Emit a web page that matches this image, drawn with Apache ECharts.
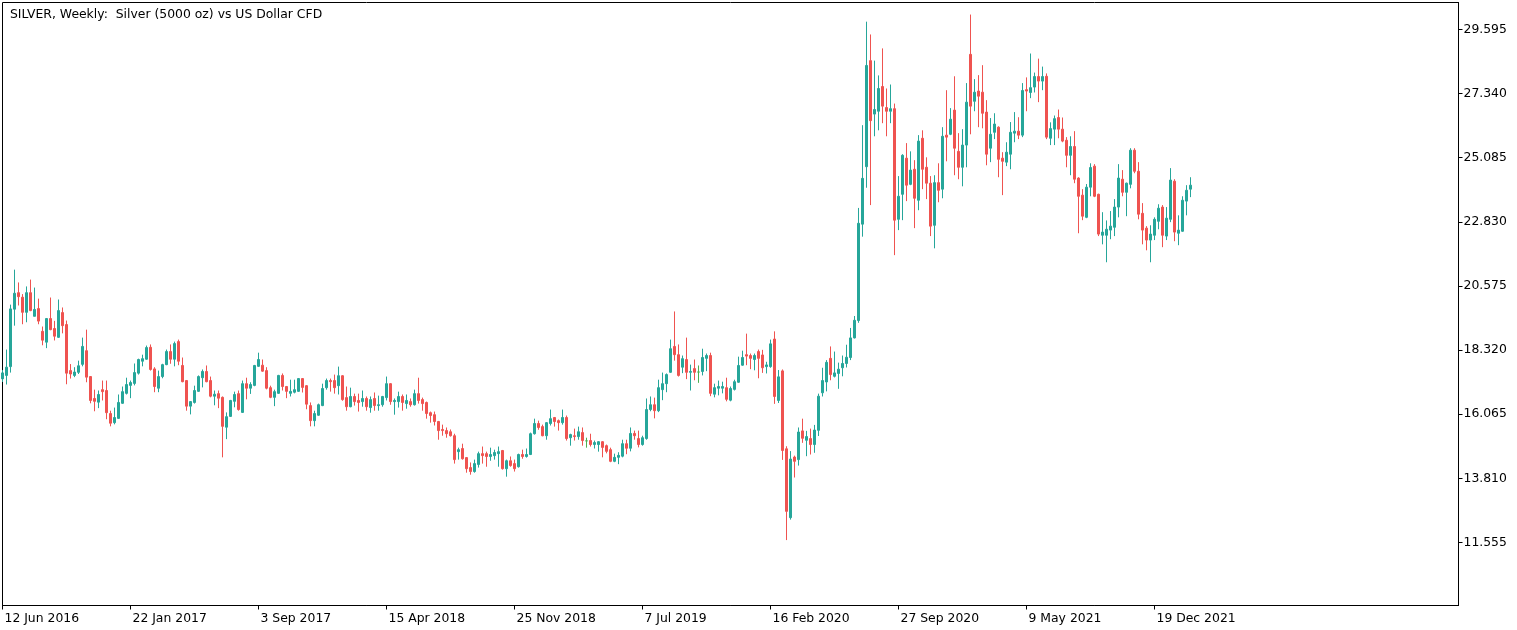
<!DOCTYPE html>
<html>
<head>
<meta charset="utf-8">
<script src="https://cdn.jsdelivr.net/npm/echarts@6/dist/echarts.min.js"></script>
<style>
  html, body { margin: 0; padding: 0; background: #fff; }
  #chart { width: 1517px; height: 630px; }
</style>
</head>
<body>
<div id="chart"></div>
<script>
// Weekly SILVER bars, first bar = week of 12 Jun 2016 (one bar per 4px slot).
const OPEN = [
  17.31, 17.43, 17.74, 19.76, 20.34, 20.18, 19.65, 20.34, 19.51, 19.78,
  18.98, 18.60, 19.43, 19.08, 18.77, 19.64, 19.22, 17.60, 17.43, 17.54,
  17.82, 18.30, 17.39, 16.62, 16.49, 16.93, 16.90, 16.09, 15.77, 15.92,
  16.45, 16.80, 17.08, 17.15, 17.51, 17.93, 18.00, 18.42, 17.66, 16.98,
  17.39, 17.81, 18.27, 18.00, 18.62, 17.78, 17.25, 16.35, 16.48, 16.87,
  17.35, 17.57, 17.25, 16.70, 16.79, 16.66, 15.61, 15.99, 16.52, 16.79,
  16.13, 17.14, 16.98, 17.08, 17.75, 17.79, 17.60, 17.00, 16.66, 16.80,
  17.43, 17.04, 16.80, 16.84, 16.87, 17.32, 17.07, 16.37, 15.84, 16.03,
  16.37, 17.00, 17.25, 17.25, 17.07, 17.42, 16.65, 16.33, 16.69, 16.55,
  16.51, 16.62, 16.30, 16.62, 16.37, 16.40, 16.65, 17.14, 16.51, 16.51,
  16.69, 16.44, 16.51, 16.40, 16.79, 16.58, 16.48, 16.12, 16.05, 15.81,
  15.53, 15.49, 15.45, 15.31, 14.75, 14.86, 14.54, 14.19, 14.05, 14.30,
  14.68, 14.68, 14.58, 14.61, 14.68, 14.79, 14.15, 14.43, 14.33, 14.22,
  14.65, 14.58, 14.65, 15.38, 15.74, 15.63, 15.31, 15.74, 15.95, 15.84,
  15.77, 15.95, 15.24, 15.31, 15.28, 15.42, 15.13, 15.14, 15.00, 15.00,
  15.10, 14.96, 14.82, 14.41, 14.55, 14.59, 15.03, 14.87, 15.39, 15.21,
  15.00, 15.21, 16.23, 16.40, 16.19, 16.93, 17.14, 17.54, 18.45, 18.16,
  17.72, 17.99, 17.54, 17.67, 17.55, 17.57, 18.03, 18.13, 16.77, 16.98,
  16.98, 17.00, 16.56, 16.94, 17.19, 17.79, 18.16, 18.13, 17.99, 18.27,
  18.15, 17.74, 17.74, 18.71, 16.55, 17.59, 14.85, 12.43, 14.56, 14.47,
  15.48, 15.15, 15.21, 15.00, 15.50, 16.82, 17.20, 18.03, 17.40, 17.50,
  17.70, 17.85, 18.06, 18.75, 19.36, 22.75, 24.77, 28.50, 26.62, 26.72,
  27.59, 26.85, 26.72, 26.81, 22.92, 23.80, 25.07, 24.15, 24.68, 23.59,
  25.77, 24.75, 24.19, 22.71, 24.21, 23.98, 25.88, 25.91, 26.76, 25.31,
  24.75, 25.53, 28.72, 27.07, 27.43, 27.39, 26.69, 25.42, 25.98, 26.16,
  25.07, 24.93, 25.21, 25.95, 26.02, 25.88, 27.48, 27.38, 27.57, 27.94,
  27.78, 27.95, 25.77, 26.09, 26.50, 26.09, 25.70, 25.17, 25.48, 24.37,
  23.77, 22.99, 24.05, 24.79, 23.80, 22.36, 22.36, 22.54, 22.64, 23.35,
  24.33, 23.87, 24.15, 25.35, 24.61, 23.13, 22.61, 22.19, 22.36, 22.85,
  23.35, 22.33, 22.92, 24.26, 22.43, 22.50, 23.56, 23.98,
];
const HIGH = [
  17.62, 18.34, 19.92, 21.15, 20.70, 20.29, 20.56, 20.80, 20.52, 20.13,
  19.15, 19.45, 20.17, 19.35, 20.10, 19.82, 19.36, 17.83, 17.72, 17.95,
  18.76, 19.04, 17.41, 16.93, 16.90, 17.25, 17.25, 16.19, 16.30, 16.76,
  17.04, 17.35, 17.25, 17.85, 18.02, 18.16, 18.48, 18.52, 17.72, 17.60,
  17.84, 18.34, 18.52, 18.62, 18.69, 18.06, 17.27, 16.53, 17.07, 17.43,
  17.64, 17.78, 17.39, 16.90, 16.90, 16.69, 16.13, 16.57, 16.86, 16.90,
  17.25, 17.35, 17.19, 17.80, 18.23, 17.99, 17.72, 17.07, 16.93, 17.45,
  17.50, 17.06, 17.28, 17.28, 17.34, 17.34, 17.09, 16.48, 16.19, 16.44,
  17.14, 17.32, 17.32, 17.46, 17.74, 17.44, 17.04, 17.00, 16.79, 16.79,
  16.90, 16.69, 16.69, 16.83, 16.72, 16.71, 17.39, 17.16, 16.62, 16.86,
  16.76, 16.76, 16.62, 16.93, 17.35, 16.65, 16.51, 16.16, 16.16, 15.83,
  15.70, 15.60, 15.53, 15.38, 14.89, 15.03, 14.56, 14.37, 14.47, 14.75,
  14.93, 14.75, 14.89, 14.82, 14.93, 14.81, 14.47, 14.58, 14.47, 14.68,
  14.82, 14.86, 15.42, 15.91, 15.84, 15.70, 15.79, 16.23, 15.97, 15.88,
  16.23, 16.02, 15.38, 15.56, 15.63, 15.60, 15.24, 15.38, 15.14, 15.12,
  15.12, 15.00, 14.89, 14.68, 14.73, 15.17, 15.17, 15.60, 15.49, 15.49,
  15.31, 16.62, 16.69, 16.65, 17.28, 17.53, 17.50, 18.69, 19.68, 18.52,
  18.13, 18.76, 17.81, 17.99, 17.78, 18.37, 18.20, 18.23, 17.14, 17.25,
  17.21, 17.35, 17.04, 17.28, 18.09, 18.30, 18.90, 18.20, 18.20, 18.34,
  18.33, 17.91, 18.69, 18.98, 17.62, 17.64, 14.94, 14.77, 14.61, 15.60,
  15.91, 15.48, 15.56, 15.69, 16.79, 17.70, 17.97, 18.45, 18.27, 17.88,
  18.13, 18.51, 19.10, 19.52, 23.32, 26.23, 29.87, 29.42, 28.50, 27.98,
  28.93, 27.52, 27.66, 26.99, 24.44, 25.21, 25.60, 25.31, 25.00, 25.88,
  26.05, 25.10, 24.44, 24.47, 24.89, 26.16, 27.46, 26.83, 27.95, 25.95,
  26.09, 27.71, 30.12, 27.85, 27.99, 28.34, 27.11, 26.48, 26.65, 26.19,
  25.28, 25.63, 26.34, 26.69, 26.51, 27.71, 27.91, 28.75, 28.08, 28.57,
  28.29, 28.05, 26.33, 26.57, 26.78, 26.50, 25.81, 25.84, 26.02, 24.40,
  23.98, 24.16, 24.89, 24.86, 23.82, 23.17, 22.88, 23.21, 23.63, 24.86,
  24.65, 24.21, 25.42, 25.42, 24.93, 23.49, 22.68, 22.71, 22.99, 23.45,
  23.42, 23.35, 24.72, 24.33, 23.06, 23.73, 24.12, 24.40,
];
const LOW = [
  17.20, 17.11, 17.53, 19.18, 19.89, 19.23, 19.30, 19.69, 19.51, 19.23,
  18.49, 18.39, 19.02, 18.66, 18.75, 18.91, 17.12, 17.32, 17.37, 17.48,
  17.75, 17.19, 16.45, 16.17, 16.28, 16.55, 15.89, 15.64, 15.71, 15.90,
  16.43, 16.76, 16.63, 17.08, 17.46, 17.75, 17.98, 17.60, 16.84, 16.84,
  17.33, 17.79, 17.84, 17.75, 17.79, 17.19, 16.19, 16.06, 16.44, 16.85,
  17.01, 17.19, 16.66, 16.38, 16.28, 14.55, 15.19, 15.97, 16.31, 16.19,
  16.11, 16.59, 16.78, 17.05, 17.73, 17.56, 16.94, 16.63, 16.35, 16.78,
  16.90, 16.63, 16.69, 16.80, 16.85, 16.83, 16.24, 15.64, 15.64, 16.01,
  16.35, 16.93, 16.86, 16.79, 16.76, 16.54, 16.19, 16.31, 16.37, 16.16,
  16.33, 16.19, 16.12, 16.19, 16.19, 16.33, 16.55, 16.40, 16.05, 16.30,
  16.19, 16.26, 16.33, 16.37, 16.44, 16.19, 15.91, 15.77, 15.67, 15.17,
  15.31, 15.24, 15.28, 14.33, 14.47, 14.47, 14.01, 13.94, 14.01, 14.19,
  14.33, 14.22, 14.43, 14.47, 14.22, 14.12, 13.87, 14.22, 14.05, 14.19,
  14.50, 14.54, 14.63, 15.35, 15.52, 15.29, 15.17, 15.67, 15.63, 15.49,
  15.70, 15.14, 14.96, 15.14, 15.17, 14.96, 14.89, 14.93, 14.86, 14.75,
  14.55, 14.69, 14.38, 14.38, 14.31, 14.55, 14.66, 14.76, 15.17, 14.90,
  14.96, 15.17, 16.17, 15.92, 16.14, 16.56, 16.84, 17.52, 17.95, 17.39,
  17.51, 17.30, 16.90, 17.26, 17.17, 17.43, 17.58, 16.70, 16.66, 16.73,
  16.80, 16.52, 16.52, 16.90, 17.17, 17.77, 17.79, 17.65, 17.61, 17.33,
  17.52, 17.50, 17.70, 16.43, 16.46, 14.46, 11.64, 12.36, 13.84, 14.26,
  15.06, 14.59, 14.65, 14.71, 15.30, 16.69, 16.87, 17.26, 17.36, 16.96,
  17.40, 17.71, 17.97, 18.73, 19.28, 22.31, 24.03, 23.42, 25.84, 26.05,
  26.30, 25.84, 26.30, 21.66, 22.54, 22.89, 23.56, 24.12, 22.61, 23.24,
  23.98, 23.63, 22.33, 21.90, 23.52, 23.66, 24.96, 25.88, 24.47, 24.33,
  24.08, 24.75, 25.91, 26.72, 26.16, 26.12, 24.82, 24.93, 25.74, 24.40,
  23.77, 24.79, 24.68, 25.63, 25.74, 25.81, 26.72, 27.18, 27.38, 27.04,
  27.46, 25.74, 25.53, 25.53, 25.77, 25.63, 24.75, 24.47, 24.19, 22.43,
  22.89, 22.96, 23.73, 23.70, 22.33, 22.04, 21.41, 22.22, 22.33, 22.99,
  23.73, 23.03, 24.01, 24.54, 22.92, 22.04, 21.83, 21.41, 22.19, 22.57,
  21.94, 22.19, 22.82, 22.15, 22.01, 22.48, 23.06, 23.70,
];
const CLOSE = [
  17.52, 17.72, 19.77, 20.32, 20.20, 19.65, 20.34, 19.71, 19.75, 19.34,
  18.67, 19.43, 19.04, 18.81, 19.71, 19.18, 17.51, 17.48, 17.55, 17.77,
  18.45, 17.37, 16.55, 16.52, 16.76, 16.86, 16.12, 15.75, 15.95, 16.48,
  16.86, 17.11, 17.18, 17.53, 17.99, 18.02, 18.41, 17.64, 17.04, 17.39,
  17.81, 18.27, 18.00, 18.55, 17.93, 17.21, 16.35, 16.51, 16.90, 17.39,
  17.57, 17.21, 16.70, 16.77, 16.63, 15.64, 15.98, 16.55, 16.76, 16.23,
  17.14, 16.98, 17.11, 17.78, 17.99, 17.58, 16.98, 16.66, 16.86, 17.43,
  17.04, 16.87, 16.87, 16.93, 17.32, 17.01, 16.42, 15.84, 16.09, 16.40,
  16.97, 17.25, 17.21, 17.00, 17.42, 16.58, 16.33, 16.69, 16.51, 16.48,
  16.62, 16.33, 16.58, 16.37, 16.40, 16.69, 17.14, 16.51, 16.55, 16.69,
  16.48, 16.55, 16.40, 16.79, 16.55, 16.44, 16.09, 16.02, 15.81, 15.49,
  15.49, 15.38, 15.31, 14.47, 14.82, 14.50, 14.15, 14.05, 14.33, 14.68,
  14.61, 14.58, 14.65, 14.72, 14.75, 14.15, 14.43, 14.26, 14.15, 14.65,
  14.58, 14.65, 15.38, 15.74, 15.60, 15.31, 15.77, 15.91, 15.81, 15.77,
  15.95, 15.21, 15.35, 15.28, 15.45, 15.14, 15.13, 15.00, 15.07, 15.10,
  14.90, 14.76, 14.41, 14.55, 14.62, 15.03, 14.87, 15.39, 15.31, 15.00,
  15.24, 16.23, 16.40, 16.19, 17.00, 17.14, 17.46, 18.37, 18.16, 17.43,
  18.02, 17.54, 17.57, 17.54, 17.55, 18.06, 18.13, 16.80, 17.00, 17.04,
  17.04, 16.59, 16.97, 17.21, 17.78, 18.06, 18.11, 18.03, 18.13, 18.03,
  17.70, 17.80, 18.54, 16.69, 17.38, 14.79, 12.65, 14.49, 14.41, 15.44,
  15.22, 15.28, 15.00, 15.51, 16.70, 17.25, 17.89, 17.46, 17.52, 17.65,
  17.85, 18.07, 18.75, 19.37, 22.78, 24.36, 28.33, 26.39, 26.78, 27.52,
  26.90, 26.72, 26.81, 22.89, 23.73, 25.17, 24.12, 24.65, 23.66, 25.67,
  24.68, 24.19, 22.68, 24.21, 23.94, 25.84, 25.81, 26.44, 25.42, 24.75,
  25.53, 27.04, 26.90, 27.39, 27.25, 26.65, 25.21, 25.91, 26.27, 25.03,
  24.96, 25.28, 25.98, 26.02, 25.88, 27.45, 27.43, 27.55, 27.94, 27.78,
  27.94, 25.81, 26.11, 26.46, 26.09, 25.67, 25.17, 25.48, 24.33, 23.73,
  23.03, 24.05, 24.74, 23.73, 22.40, 22.47, 22.57, 22.68, 23.35, 24.37,
  23.87, 24.19, 25.35, 24.61, 23.10, 22.54, 22.19, 22.40, 22.92, 23.31,
  22.36, 22.96, 24.30, 22.47, 22.54, 23.59, 23.94, 24.12,
];

// one date label every 32 weeks, starting on the first bar
const DATE_LABELS = [
  "12 Jun 2016", "22 Jan 2017", "3 Sep 2017", "15 Apr 2018", "25 Nov 2018",
  "7 Jul 2019", "16 Feb 2020", "27 Sep 2020", "9 May 2021", "19 Dec 2021",
];
const PRICE_TICKS = [11.555, 13.810, 16.065, 18.320, 20.575, 22.830, 25.085, 27.340, 29.595];
const LABEL_STEP = 32;
const N_SLOTS = 365; // chart shift: empty weeks to the right of the last bar

const BULL = "#26a69a";
const BEAR = "#ef5350";
const DOJI = "#4caf50";
const FONT = "DejaVu Sans";
const FONT_SIZE = 12.4;

const slots = Array.from({ length: N_SLOTS }, (_, i) => String(i));
const candles = OPEN.map((o, i) => {
  const item = { value: [o, CLOSE[i], LOW[i], HIGH[i]] };
  if (o === CLOSE[i]) {
    item.itemStyle = { color: DOJI, color0: DOJI, borderColor: DOJI, borderColor0: DOJI };
  }
  return item;
});

const showSlot = (idx) => idx % LABEL_STEP === 0 && idx / LABEL_STEP < DATE_LABELS.length;

const chart = echarts.init(document.getElementById("chart"), null, { renderer: "canvas" });
chart.setOption({
  animation: false,
  backgroundColor: "#fff",
  textStyle: { fontFamily: FONT },
  title: {
    text: "SILVER, Weekly:  Silver (5000 oz) vs US Dollar CFD",
    left: 5, top: 4,
    textStyle: { fontFamily: FONT, fontSize: FONT_SIZE, fontWeight: "normal", color: "#000" },
  },
  // 364 slots * 4px between left and right; edges on half pixels keep lines crisp
  grid: { left: 2.5, right: 58.5, top: 2.5, bottom: 24.5, show: true, borderColor: "#000", borderWidth: 1 },
  xAxis: {
    type: "category",
    data: slots,
    boundaryGap: false,
    axisLine: { lineStyle: { color: "#000", width: 1 } },
    axisTick: { interval: showSlot, length: 4, lineStyle: { color: "#000" } },
    axisLabel: {
      interval: showSlot,
      formatter: (v, idx) => DATE_LABELS[idx / LABEL_STEP] || "",
      align: "left", margin: 7, padding: [0, 0, 0, 2],
      color: "#000", fontFamily: FONT, fontSize: FONT_SIZE,
    },
    splitLine: { show: false },
  },
  yAxis: {
    type: "value",
    position: "right",
    min: 9.340, max: 30.544,
    axisLine: { show: true, lineStyle: { color: "#000" } },
    axisTick: { show: true, customValues: PRICE_TICKS, length: 4, lineStyle: { color: "#000" } },
    axisLabel: {
      customValues: PRICE_TICKS,
      formatter: (v) => v.toFixed(3),
      margin: 5, padding: [2, 0, 0, 0],
      color: "#000", fontFamily: FONT, fontSize: FONT_SIZE,
    },
    splitLine: { show: false },
  },
  series: [{
    type: "candlestick",
    data: candles,
    barWidth: 2,
    itemStyle: { color: BULL, color0: BEAR, borderColor: BULL, borderColor0: BEAR, borderWidth: 1 },
  }],
});
</script>
</body>
</html>
